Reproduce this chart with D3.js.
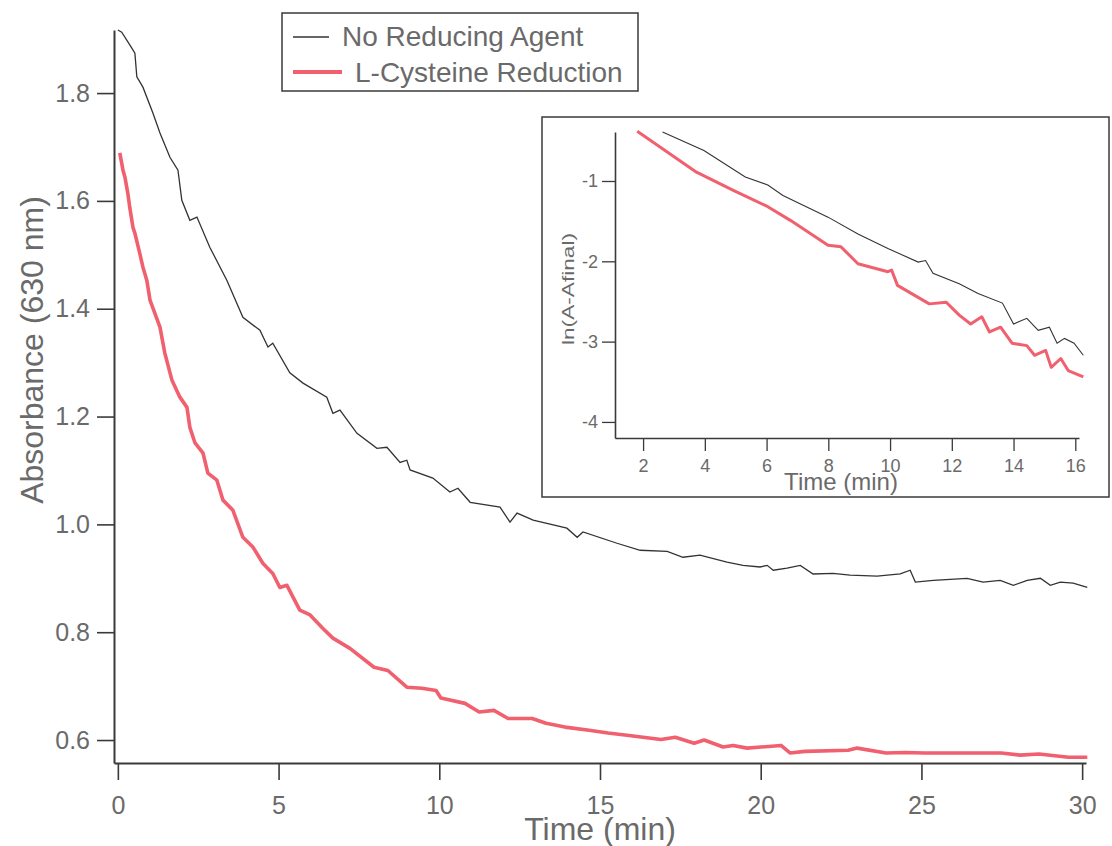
<!DOCTYPE html>
<html>
<head>
<meta charset="utf-8">
<script src="https://cdn.jsdelivr.net/npm/d3@7/dist/d3.min.js"></script>
<style>
  html, body { margin: 0; padding: 0; background: #fff; }
  svg { display: block; }
  text { font-family: "Liberation Sans", Arial, sans-serif; fill: #6a6a6a; }
</style>
</head>
<body>
<svg id="chart" width="1112" height="846"></svg>
<script>
// Main panel: absorbance at 630 nm vs time (min)
const noAgentTime = [0, 0.12, 0.44, 0.53, 0.59, 0.78, 1.09, 1.31, 1.62, 1.87, 1.99, 2.24, 2.46, 2.86, 3.39, 3.89, 4.42, 4.67, 4.82, 5.35, 5.76, 6.50, 6.69, 6.91, 7.44, 8.06, 8.37, 8.78, 8.99, 9.09, 9.80, 10.33, 10.58, 10.96, 11.89, 12.20, 12.42, 12.92, 13.97, 14.29, 14.47, 15.53, 16.25, 17.09, 17.58, 18.11, 18.95, 19.45, 19.98, 20.20, 20.39, 20.82, 21.23, 21.63, 22.25, 22.78, 23.62, 24.34, 24.65, 24.81, 25.37, 26.42, 26.92, 27.45, 27.86, 28.29, 28.70, 29.01, 29.32, 29.72, 30.16];
const noAgentAbs = [1.917, 1.913, 1.883, 1.874, 1.830, 1.811, 1.763, 1.726, 1.681, 1.657, 1.601, 1.564, 1.570, 1.514, 1.453, 1.384, 1.360, 1.329, 1.336, 1.281, 1.262, 1.236, 1.206, 1.212, 1.169, 1.141, 1.143, 1.115, 1.119, 1.101, 1.086, 1.060, 1.067, 1.041, 1.032, 1.004, 1.021, 1.008, 0.993, 0.976, 0.986, 0.965, 0.952, 0.950, 0.939, 0.943, 0.930, 0.924, 0.921, 0.924, 0.915, 0.919, 0.924, 0.908, 0.909, 0.906, 0.904, 0.908, 0.915, 0.893, 0.896, 0.900, 0.893, 0.896, 0.887, 0.896, 0.900, 0.887, 0.893, 0.891, 0.883];

const cysteineTime = [0.06, 0.16, 0.22, 0.31, 0.37, 0.47, 0.53, 0.68, 0.78, 0.90, 1.00, 1.31, 1.46, 1.68, 1.93, 2.15, 2.24, 2.40, 2.65, 2.80, 3.08, 3.27, 3.58, 3.89, 4.20, 4.51, 4.82, 5.04, 5.26, 5.66, 5.98, 6.38, 6.69, 7.22, 7.97, 8.40, 8.99, 9.46, 9.90, 10.05, 10.80, 11.24, 11.70, 12.14, 12.89, 13.32, 13.91, 14.66, 15.25, 15.84, 16.90, 17.34, 17.93, 18.24, 18.83, 19.14, 19.58, 20.01, 20.63, 20.91, 21.38, 22.72, 23.00, 23.90, 24.49, 25.09, 26.58, 27.48, 28.07, 28.66, 29.57, 30.16];
const cysteineAbs = [1.689, 1.657, 1.644, 1.614, 1.588, 1.551, 1.540, 1.503, 1.477, 1.453, 1.416, 1.366, 1.318, 1.268, 1.236, 1.217, 1.180, 1.151, 1.132, 1.095, 1.082, 1.045, 1.026, 0.976, 0.958, 0.928, 0.909, 0.883, 0.887, 0.841, 0.832, 0.807, 0.789, 0.770, 0.735, 0.729, 0.698, 0.696, 0.692, 0.678, 0.668, 0.652, 0.655, 0.640, 0.640, 0.631, 0.624, 0.618, 0.613, 0.609, 0.601, 0.605, 0.594, 0.600, 0.587, 0.590, 0.585, 0.587, 0.590, 0.576, 0.579, 0.581, 0.585, 0.576, 0.577, 0.576, 0.576, 0.576, 0.572, 0.574, 0.568, 0.568];

// Inset: ln(A - Afinal) vs time (min)
const insetNoAgentTime = [2.63, 3.97, 5.31, 6.04, 6.53, 7.99, 8.96, 9.93, 10.91, 11.15, 11.39, 12.24, 12.85, 13.64, 14.00, 14.43, 14.80, 15.16, 15.41, 15.65, 15.96, 16.26];
const insetNoAgentLn = [-0.39, -0.62, -0.95, -1.05, -1.18, -1.45, -1.66, -1.84, -2.01, -1.99, -2.15, -2.28, -2.40, -2.52, -2.78, -2.71, -2.86, -2.82, -3.02, -2.96, -3.02, -3.17];
const insetCysteineTime = [1.81, 3.73, 4.94, 6.04, 6.77, 7.99, 8.41, 8.96, 9.93, 10.05, 10.24, 11.27, 11.82, 12.24, 12.61, 12.97, 13.22, 13.58, 13.95, 14.43, 14.68, 15.04, 15.22, 15.53, 15.77, 16.26];
const insetCysteineLn = [-0.38, -0.89, -1.12, -1.32, -1.49, -1.80, -1.82, -2.03, -2.13, -2.11, -2.30, -2.53, -2.51, -2.67, -2.78, -2.69, -2.88, -2.82, -3.02, -3.05, -3.17, -3.11, -3.32, -3.21, -3.36, -3.44];

const mainXTicks = [0, 5, 10, 15, 20, 25, 30];
const mainYTicks = [0.6, 0.8, 1.0, 1.2, 1.4, 1.6, 1.8];
const insetXTicks = [2, 4, 6, 8, 10, 12, 14, 16];
const insetYTicks = [-1, -2, -3, -4];

const seriesNames = ["No Reducing Agent", "L-Cysteine Reduction"];
const seriesColors = ["#333333", "#f0606e"];

const svg = d3.select("#chart");
const axisColor = "#3a3a3a";

// ---------- main panel ----------
const x = d3.scaleLinear().domain([-0.12, 30.12]).range([114, 1086]);
const y = d3.scaleLinear().domain([0.5574, 1.917]).range([763, 30]);

const xAxis = svg.append("g")
  .attr("transform", `translate(0,${y.range()[0]})`)
  .call(d3.axisBottom(x).tickValues(mainXTicks).tickSize(17).tickSizeOuter(0).tickPadding(16).tickFormat(d3.format("d")));
const yAxis = svg.append("g")
  .attr("transform", `translate(${x.range()[0]},0)`)
  .call(d3.axisLeft(y).tickValues(mainYTicks).tickSize(17).tickSizeOuter(0).tickPadding(7).tickFormat(d3.format(".1f")));

[xAxis, yAxis].forEach(g => {
  g.select(".domain").attr("stroke", axisColor).attr("stroke-width", 2);
  g.selectAll(".tick line").attr("stroke", axisColor).attr("stroke-width", 1.6);
  g.selectAll(".tick text").style("font-size", "25px").attr("fill", "#6a6a6a");
});

const mainLine = d3.line().x(d => x(d[0])).y(d => y(d[1]));
svg.append("path")
  .datum(d3.zip(noAgentTime, noAgentAbs))
  .attr("fill", "none").attr("stroke", seriesColors[0]).attr("stroke-width", 1.3)
  .attr("d", mainLine);
svg.append("path")
  .datum(d3.zip(cysteineTime, cysteineAbs))
  .attr("fill", "none").attr("stroke", seriesColors[1]).attr("stroke-width", 3.6)
  .attr("stroke-linejoin", "round")
  .attr("d", mainLine);

svg.append("text")
  .attr("x", 600).attr("y", 840)
  .attr("text-anchor", "middle")
  .style("font-size", "32px")
  .text("Time (min)");
svg.append("text")
  .attr("transform", "translate(43,350) rotate(-90)")
  .attr("text-anchor", "middle")
  .style("font-size", "32px")
  .text("Absorbance (630 nm)");

// ---------- legend ----------
const legend = svg.append("g");
legend.append("rect")
  .attr("x", 282).attr("y", 13).attr("width", 356).attr("height", 78)
  .attr("fill", "#fff").attr("stroke", axisColor).attr("stroke-width", 1.5);
const legendRows = [
  { y: 37, x1: 293, x2: 329, textX: 342, baseline: 46 },
  { y: 72, x1: 293, x2: 342, textX: 355, baseline: 82 }
];
legendRows.forEach((r, i) => {
  legend.append("line")
    .attr("x1", r.x1).attr("x2", r.x2).attr("y1", r.y).attr("y2", r.y)
    .attr("stroke", seriesColors[i]).attr("stroke-width", i === 0 ? 1.5 : 4);
  legend.append("text")
    .attr("x", r.textX).attr("y", r.baseline)
    .style("font-size", "28px")
    .text(seriesNames[i]);
});

// ---------- inset ----------
const inset = svg.append("g");
inset.append("rect")
  .attr("x", 542).attr("y", 117).attr("width", 567).attr("height", 380)
  .attr("fill", "#fff").attr("stroke", axisColor).attr("stroke-width", 1.5);

const ix = d3.scaleLinear().domain([1.09, 16.12]).range([615, 1079]);
const iy = d3.scaleLinear().domain([-4.2, -0.39]).range([438, 132]);

const ixAxis = inset.append("g")
  .attr("transform", `translate(0,${iy.range()[0]})`)
  .call(d3.axisBottom(ix).tickValues(insetXTicks).tickSize(13).tickSizeOuter(0).tickPadding(8).tickFormat(d3.format("d")));
const iyAxis = inset.append("g")
  .attr("transform", `translate(${ix.range()[0]},0)`)
  .call(d3.axisLeft(iy).tickValues(insetYTicks).tickSize(13).tickSizeOuter(0).tickPadding(4).tickFormat(d => String(d)));

[ixAxis, iyAxis].forEach(g => {
  g.select(".domain").attr("stroke", axisColor).attr("stroke-width", 1.6);
  g.selectAll(".tick line").attr("stroke", axisColor).attr("stroke-width", 1.3);
  g.selectAll(".tick text").style("font-size", "18px").attr("fill", "#6a6a6a");
});

const insetLine = d3.line().x(d => ix(d[0])).y(d => iy(d[1]));
inset.append("path")
  .datum(d3.zip(insetNoAgentTime, insetNoAgentLn))
  .attr("fill", "none").attr("stroke", seriesColors[0]).attr("stroke-width", 1.1)
  .attr("d", insetLine);
inset.append("path")
  .datum(d3.zip(insetCysteineTime, insetCysteineLn))
  .attr("fill", "none").attr("stroke", seriesColors[1]).attr("stroke-width", 3)
  .attr("stroke-linejoin", "round")
  .attr("d", insetLine);

inset.append("text")
  .attr("x", 841).attr("y", 490)
  .attr("text-anchor", "middle")
  .style("font-size", "24px")
  .text("Time (min)");
inset.append("text")
  .attr("transform", "translate(574,289) rotate(-90)")
  .attr("text-anchor", "middle")
  .attr("textLength", 112).attr("lengthAdjust", "spacingAndGlyphs")
  .style("font-size", "17px")
  .text("ln(A-Afinal)");
</script>
</body>
</html>
